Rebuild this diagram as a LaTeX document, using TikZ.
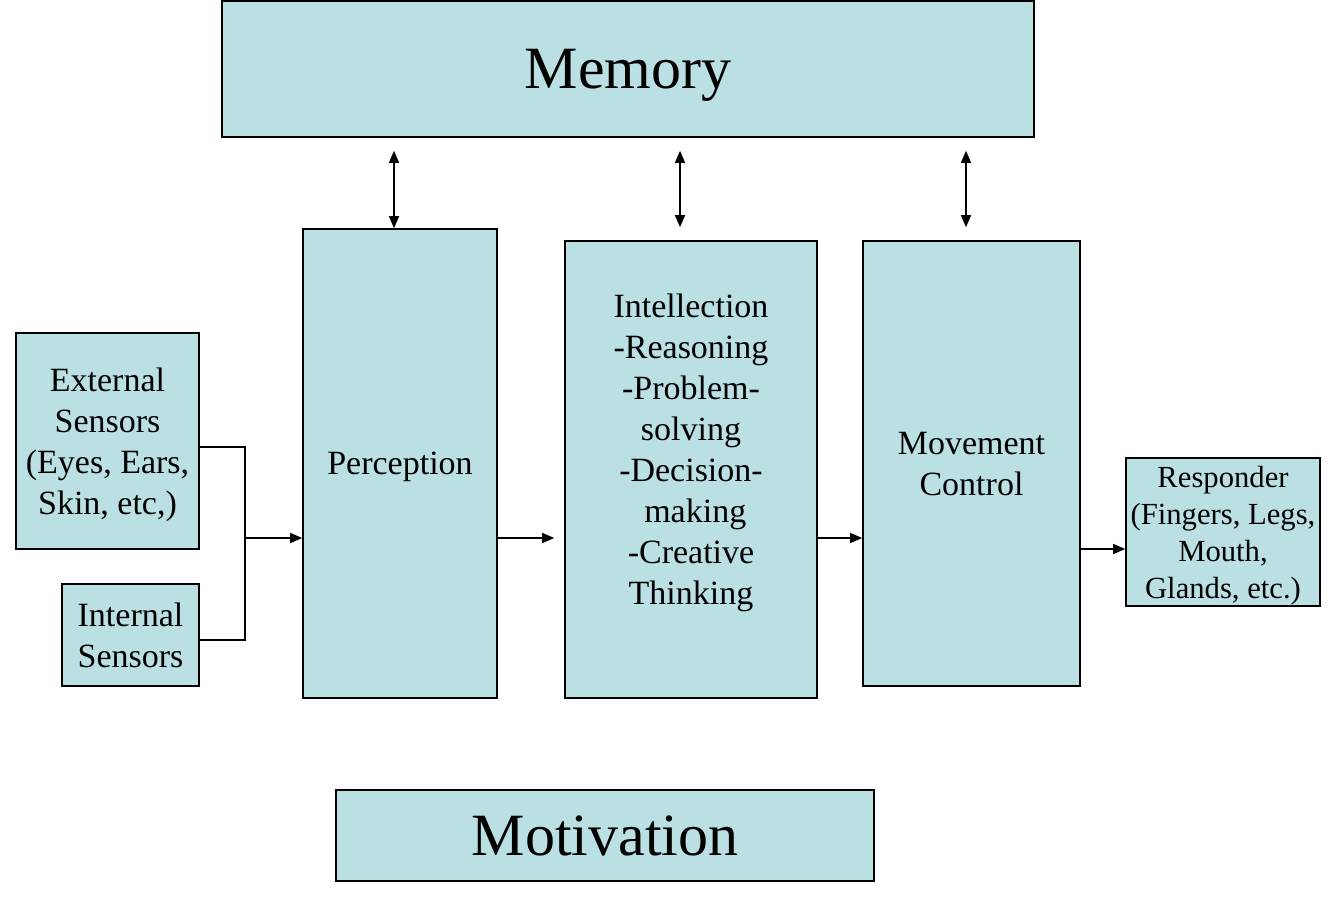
\documentclass[tikz,border=0pt]{standalone}
\usepackage{fontspec}
\setmainfont{Liberation Serif}
\usetikzlibrary{arrows.meta}
\definecolor{boxblue}{HTML}{BBE0E3}
\begin{document}
\begin{tikzpicture}[x=0.75pt,y=-0.75pt,
    wire/.style={line width=1pt},
    link/.style={wire,-{Triangle[length=9pt,width=7.5pt]}},
    both/.style={wire,{Triangle[length=9pt,width=7.5pt]}-{Triangle[length=9pt,width=7.5pt]}},
    title/.style={font=\fontsize{45}{54}\selectfont,text depth=-4pt}]
  \useasboundingbox (0,0) rectangle (1334,909);

  \begin{scope}[every node/.style={draw,fill=boxblue,line width=1.2pt,align=center,inner sep=0pt,
      text depth=0pt,font=\fontsize{25.5}{30.75}\selectfont}]
    \node[title,minimum width=609pt,minimum height=102pt] (mem) at (628,69) {Memory};
    \node[minimum width=145.5pt,minimum height=351.75pt] (per) at (400,463.5) {Perception};
    \node[minimum width=189pt,minimum height=342.75pt,text depth=30pt] (int) at (691,469.5)
      {Intellection\\-Reasoning\\-Problem-\\solving\\-Decision-\\\ making\\-Creative\\Thinking};
    \node[minimum width=162.75pt,minimum height=333.75pt] (mov) at (971.5,463.5) {Movement\\Control};
    \node[minimum width=137.25pt,minimum height=162pt] (ext) at (107.5,441)
      {External\\Sensors\\(Eyes, Ears,\\Skin, etc,)};
    \node[minimum width=102.75pt,minimum height=76.5pt] (isen) at (130.5,635) {Internal\\Sensors};
    \node[minimum width=145.5pt,minimum height=111pt,font=\fontsize{23}{27.75}\selectfont] (resp) at (1223,532)
      {Responder\\(Fingers, Legs,\\Mouth,\\Glands, etc.)};
    \node[title,minimum width=403.5pt,minimum height=68.25pt] (mot) at (605,835.5) {Motivation};
  \end{scope}

  % memory links
  \coordinate (a1) at ([xshift=-4.5pt]per.north);
  \coordinate (a2) at ([xshift=-8.25pt,yshift=9.75pt]int.north);
  \coordinate (a3) at ([xshift=-4.125pt,yshift=9.75pt]mov.north);
  \draw[both,shorten <=9.75pt] (a1 |- mem.south) -- (a1);
  \draw[both,shorten <=9.75pt] (a2 |- mem.south) -- (a2);
  \draw[both,shorten <=9.75pt] (a3 |- mem.south) -- (a3);

  % sensors to perception
  \coordinate (j) at (245,538);
  \draw[wire] ([yshift=-4.5pt]ext.east) -| (j) |- ([yshift=-3.75pt]isen.east);
  \draw[link] (j) -- (j -| per.west);

  % main chain
  \draw[link,shorten >=7.5pt] (per.east |- j) -- (int.west |- j);
  \draw[link] (int.east |- j) -- (mov.west |- j);
  \coordinate (r) at ([yshift=-12.75pt]resp.west);
  \draw[link] (mov.east |- r) -- (r);

\end{tikzpicture}
\end{document}
